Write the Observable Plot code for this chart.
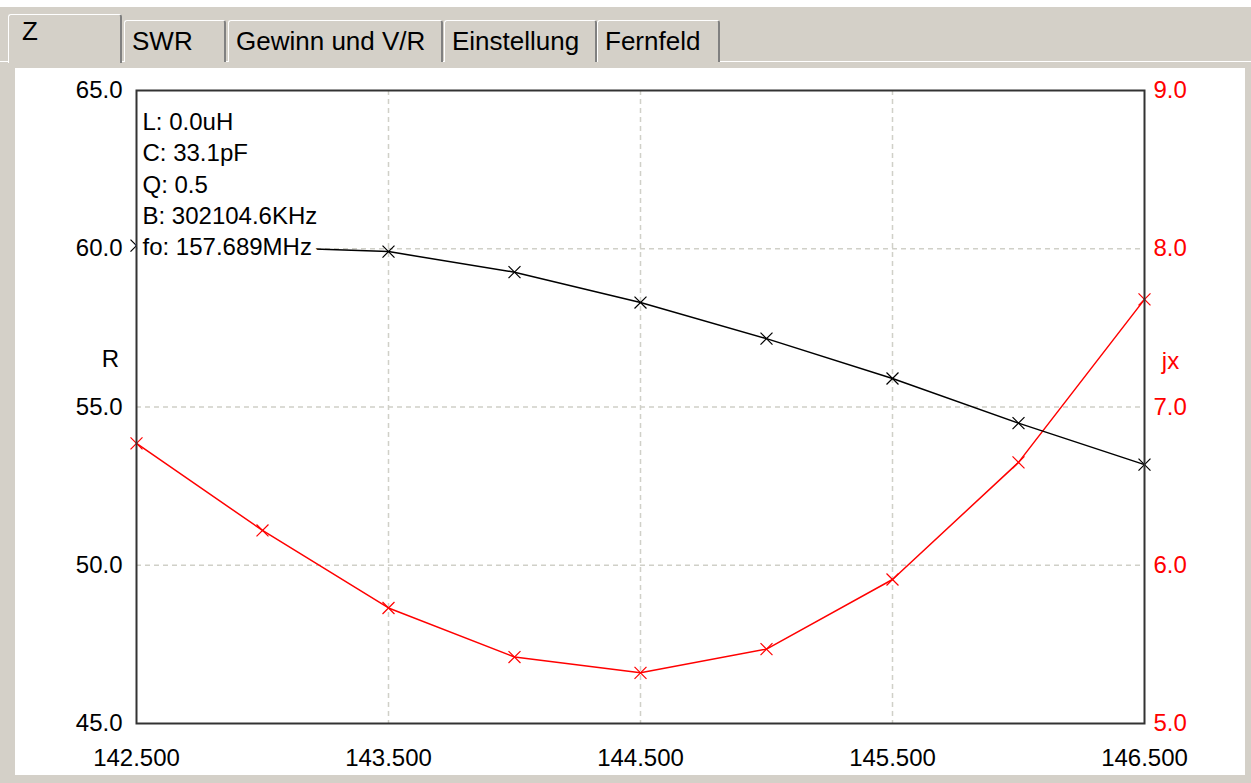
<!DOCTYPE html>
<html>
<head>
<meta charset="utf-8">
<script src="https://cdn.jsdelivr.net/npm/d3@7"></script>
<script src="https://cdn.jsdelivr.net/npm/@observablehq/plot@0.6"></script>
<style>
  html, body { margin: 0; padding: 0; }
  body { width: 1251px; height: 783px; background: #d4d0c8; overflow: hidden; position: relative;
         font-family: "Liberation Sans", Arial, sans-serif; }
  .topstrip { position: absolute; left: 0; top: 0; width: 1251px; height: 7px; background: #fff; }
  .sep { position: absolute; left: 0; top: 61px; width: 1251px; height: 1px; background: #fff; }
  .tab { position: absolute; top: 20px; height: 42px; background: #d4d0c8; box-sizing: border-box;
         border-top: 1px solid #fff; border-left: 1px solid #fff; border-right: 2px solid #808080;
         border-radius: 3px 3px 0 0; font-size: 26px; color: #000; padding-left: 7px; line-height: 40px;
         white-space: nowrap; }
  .tab.active { top: 14px; height: 49px; line-height: 32px; padding-left: 13px; z-index: 2; }
  #panel { position: absolute; left: 15px; top: 68px; width: 1230px; height: 707px; background: #fff; }
  #panel svg { display: block; }
</style>
</head>
<body>
<div class="topstrip"></div>
<div class="sep"></div>
<div id="tabs"></div>
<div id="panel"></div>
<script>
// ---- data ----
const tabLabels = ["Z", "SWR", "Gewinn und V/R", "Einstellung", "Fernfeld"];
const freq      = [142.5, 143.0, 143.5, 144.0, 144.5, 145.0, 145.5, 146.0, 146.5];
const rValues   = [60.10, 60.05, 59.91, 59.26, 58.30, 57.16, 55.90, 54.49, 53.18];
const jxValues  = [6.77, 6.22, 5.73, 5.42, 5.32, 5.47, 5.91, 6.65, 7.68];
const xTicks    = [142.5, 143.5, 144.5, 145.5, 146.5];
const rTicks    = [45, 50, 55, 60, 65];
const jxTicks   = [5, 6, 7, 8, 9];
const gridX     = [143.5, 144.5, 145.5];
const gridY     = [50, 55, 60];
const infoLines = ["L: 0.0uH", "C: 33.1pF", "Q: 0.5", "B: 302104.6KHz", "fo: 157.689MHz"];

// ---- tabs (UI chrome) ----
const tabGeom = [[8, 114], [124, 102], [228, 215], [444, 153], [597, 123]];
const tabsEl = document.getElementById("tabs");
tabLabels.forEach((t, i) => {
  const d = document.createElement("div");
  d.className = "tab" + (i === 0 ? " active" : "");
  d.style.left = tabGeom[i][0] + "px";
  d.style.width = tabGeom[i][1] + "px";
  d.textContent = t;
  tabsEl.appendChild(d);
});

// ---- chart ----
// right axis (jx, 5..9) shares the frame with left axis (R, 45..65)
const jxToR = j => 45 + (j - 5) * 5;
const rToJx = r => (r - 45) / 5 + 5;
const rows = freq.map((f, i) => ({f, r: rValues[i], jx: jxToR(jxValues[i])}));

const red = "#ff0000";
const grid = {stroke: "#d0d0c8", strokeWidth: 1.5, strokeDasharray: "5,4"};

const chart = Plot.plot({
  width: 1230,
  height: 707,
  marginLeft: 121,
  marginRight: 101,
  marginTop: 22,
  marginBottom: 52,
  x: {domain: [142.5, 146.5]},
  y: {domain: [45, 65]},
  style: {fontFamily: "'Liberation Sans', Arial, sans-serif", fontSize: "24px", background: "white", color: "black", overflow: "visible"},
  marks: [
    Plot.ruleX(gridX, grid),
    Plot.ruleY(gridY, grid),
    Plot.line(rows, {x: "f", y: "jx", stroke: red, strokeWidth: 1.5}),
    Plot.dot(rows, {x: "f", y: "jx", symbol: "times", r: 5.5, stroke: red, strokeWidth: 1.2}),
    Plot.line(rows, {x: "f", y: "r", stroke: "#000", strokeWidth: 1.5}),
    Plot.dot(rows, {x: "f", y: "r", symbol: "times", r: 5.5, stroke: "#000", strokeWidth: 1.2}),
    ...infoLines.map((t, i) => Plot.text([t], {
      frameAnchor: "top-left", textAnchor: "start", dx: 6, dy: 22.5 + i * 31.3,
      fill: "#000", stroke: "white", strokeWidth: 14, strokeLinejoin: "round", paintOrder: "stroke"
    })),
    Plot.frame({stroke: "#333", strokeWidth: 2}),
    Plot.axisX({ticks: xTicks, tickFormat: d => d.toFixed(3), tickSize: 0, tickPadding: 25, label: null}),
    Plot.axisY({ticks: rTicks, tickFormat: d => d.toFixed(1), tickSize: 0, tickPadding: 14, label: null}),
    Plot.axisY({anchor: "right", ticks: jxTicks.map(jxToR), tickFormat: d => rToJx(d).toFixed(1),
                tickSize: 0, tickPadding: 9, color: red, label: null}),
    Plot.text(["R"], {frameAnchor: "left", textAnchor: "middle", dx: -26, dy: -48, fill: "#000"}),
    Plot.text(["jx"], {frameAnchor: "right", textAnchor: "middle", dx: 26, dy: -46, fill: red})
  ]
});
document.getElementById("panel").appendChild(chart);
</script>
</body>
</html>
